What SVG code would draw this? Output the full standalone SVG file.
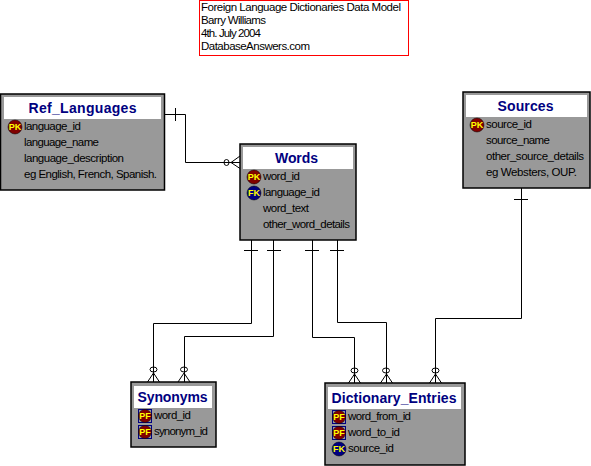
<svg xmlns="http://www.w3.org/2000/svg" width="591" height="466" viewBox="0 0 591 466">
<style>
text{font-family:"Liberation Sans",Arial,sans-serif}
.box{fill:#999;stroke:#000;stroke-width:1.5}
.head{fill:#fff}
.title{font-size:14px;font-weight:bold;fill:#000080}
.f{font-size:11.5px;fill:#000}
.note{font-size:11.5px;fill:#000}
.pk{fill:#800000;stroke:#000;stroke-width:.5}
.fk{fill:#000080;stroke:#000;stroke-width:.5}
.pfb{fill:none;stroke:#000080;stroke-width:1}
.bt{font-size:9px;font-weight:bold;fill:#ff0;text-anchor:middle}
#connectors path,#connectors ellipse{fill:none;stroke:#000;stroke-width:1}
</style>
<rect width="591" height="466" fill="#fff"/>
<g id="note">
<rect x="199.5" y="0.5" width="209" height="55" fill="#fff" stroke="#f00"/>
<text class="note" x="201" y="11" textLength="200">Foreign Language Dictionaries Data Model</text>
<text class="note" x="201" y="24" textLength="65">Barry Williams</text>
<text class="note" x="201" y="37" textLength="60">4th. July 2004</text>
<text class="note" x="201" y="50" textLength="109">DatabaseAnswers.com</text>
</g>
<g id="connectors">
<path d="M164 114.500H185.500V162.500H240M175.500 108V121"/>
<path d="M240 156L231 162.500L240 168.500"/><ellipse cx="226.500" cy="162.500" rx="2.500" ry="3"/>
<path d="M251.500 240V323.500H153.500V382M244 250.500H258"/>
<path d="M273.500 240V336.500H184.500V382M267 250.500H281"/>
<path d="M312.500 240V337.500H354.500V383M305 250.500H319"/>
<path d="M337.500 240V322.500H386.500V383M330 250.500H344"/>
<path d="M521.500 188V318.500H435.500V383M514 199.500H528"/>
<path d="M147.500 382L153.500 373L159.500 382M178 382L184 373L190 382"/>
<ellipse cx="153.500" cy="369.500" rx="3.500" ry="2.500"/><ellipse cx="184" cy="369.500" rx="3.500" ry="2.500"/>
<path d="M348.500 383L354.500 374L360.500 383M380.500 383L386.500 374L392.500 383M429.500 383L435.500 374L441.500 383"/>
<ellipse cx="354.500" cy="370.500" rx="3.500" ry="2.500"/><ellipse cx="386" cy="370.500" rx="3.500" ry="2.500"/><ellipse cx="435.500" cy="370.500" rx="3.500" ry="2.500"/>
</g>
<g id="Ref_Languages">
<rect class="box" x="0.500" y="94" width="164" height="96"/>
<rect class="head" x="4" y="97" width="157" height="22"/>
<text class="title" x="28.500" y="113" textLength="108">Ref_Languages</text>
<circle class="pk" cx="15" cy="127" r="7"/><text class="bt" x="15" y="130">PK</text>
<text class="f" x="24" y="130" textLength="57">language_id</text>
<text class="f" x="24" y="146" textLength="75">language_name</text>
<text class="f" x="24" y="162" textLength="100">language_description</text>
<text class="f" x="24" y="178" textLength="133">eg English, French, Spanish.</text>
</g>
<g id="Words">
<rect class="box" x="240" y="144" width="116" height="96"/>
<rect class="head" x="243" y="147" width="110" height="22"/>
<text class="title" x="275" y="163" textLength="43">Words</text>
<circle class="pk" cx="254" cy="177" r="7"/><text class="bt" x="254" y="180">PK</text>
<circle class="fk" cx="254" cy="193" r="7"/><text class="bt" x="254" y="196">FK</text>
<text class="f" x="263" y="180" textLength="37">word_id</text>
<text class="f" x="263" y="196" textLength="57">language_id</text>
<text class="f" x="263" y="212" textLength="46">word_text</text>
<text class="f" x="263" y="228" textLength="87">other_word_details</text>
</g>
<g id="Sources">
<rect class="box" x="463" y="92" width="127" height="96"/>
<rect class="head" x="466" y="95" width="121" height="22"/>
<text class="title" x="497.500" y="111" textLength="56">Sources</text>
<circle class="pk" cx="477" cy="125" r="7"/><text class="bt" x="477" y="128">PK</text>
<text class="f" x="486" y="128" textLength="46">source_id</text>
<text class="f" x="486" y="144" textLength="64">source_name</text>
<text class="f" x="486" y="160" textLength="98">other_source_details</text>
<text class="f" x="486" y="176" textLength="91">eg Websters, OUP.</text>
</g>
<g id="Synonyms">
<rect class="box" x="131" y="382" width="85" height="65"/>
<rect class="head" x="134" y="386" width="78" height="22"/>
<text class="title" x="137.500" y="402" textLength="70">Synonyms</text>
<rect class="pfb" x="138.500" y="409.500" width="13" height="13"/><circle class="pk" cx="145" cy="416" r="6.500"/><text class="bt" x="145" y="419">PF</text>
<rect class="pfb" x="138.500" y="425.500" width="13" height="13"/><circle class="pk" cx="145" cy="432" r="6.500"/><text class="bt" x="145" y="435">PF</text>
<text class="f" x="154" y="419" textLength="37">word_id</text>
<text class="f" x="154" y="435" textLength="54">synonym_id</text>
</g>
<g id="Dictionary_Entries">
<rect class="box" x="325" y="383" width="140" height="82"/>
<rect class="head" x="328" y="387" width="133" height="22"/>
<text class="title" x="331.500" y="403" textLength="125">Dictionary_Entries</text>
<rect class="pfb" x="332.500" y="410.500" width="13" height="13"/><circle class="pk" cx="339" cy="417" r="6.500"/><text class="bt" x="339" y="420">PF</text>
<rect class="pfb" x="332.500" y="426.500" width="13" height="13"/><circle class="pk" cx="339" cy="433" r="6.500"/><text class="bt" x="339" y="436">PF</text>
<circle class="fk" cx="339" cy="449" r="7"/><text class="bt" x="339" y="452">FK</text>
<text class="f" x="348" y="420" textLength="63">word_from_id</text>
<text class="f" x="348" y="436" textLength="52">word_to_id</text>
<text class="f" x="348" y="452" textLength="46">source_id</text>
</g>
</svg>
